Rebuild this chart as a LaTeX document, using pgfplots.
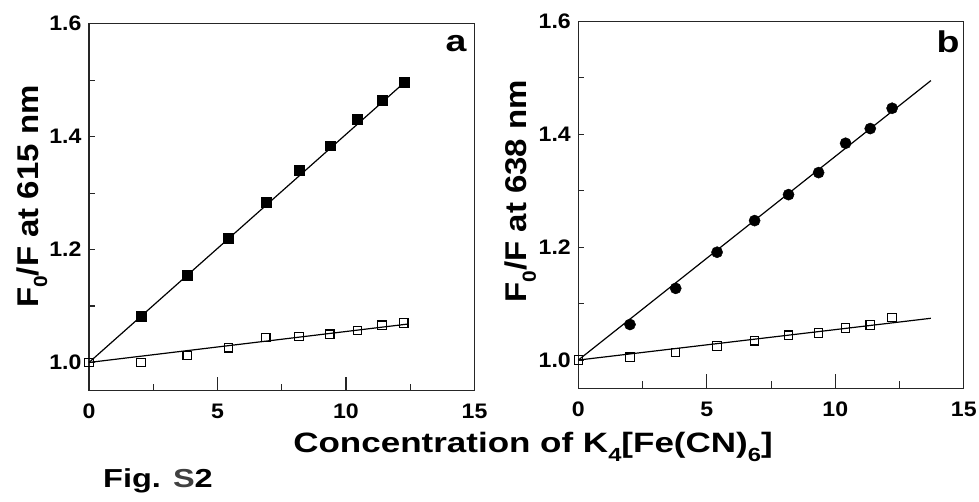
\documentclass[border=0pt]{standalone}
\usepackage{fontspec}
\setmainfont{Liberation Sans}
\newfontfamily\tickfont[FakeStretch=1.1]{Liberation Sans Bold}
\newfontfamily\labfont[FakeStretch=1.25]{Liberation Sans Bold}
\newfontfamily\ylabfont[FakeStretch=1.1]{Liberation Sans Bold}
\usepackage{pgfplots}
\pgfplotsset{compat=1.18}

% lowered subscript set in the current (text) font
\newcommand\lowsub[1]{\raisebox{-0.3em}{\fontsize{19}{19}\selectfont #1}}

\tikzset{ylab/.style={font=\ylabfont\fontsize{30}{30}\selectfont, rotate=90, anchor=center}}

\pgfplotsset{
  frame/.style={
    scale only axis,
    width=385.5pt, height=367pt,
    anchor=south west,
    xmin=0, xmax=15, ymin=0.95, ymax=1.6,
    xtick={0,5,10,15},
    minor x tick num=1,
    xtick pos=left, ytick pos=left, tick align=inside,
    every tick/.style={line width=1.1pt, black!85},
    clip=false,
  },
  panel/.style={
    frame,
    ytick={1.0,1.2,1.4,1.6}, minor y tick num=1,
    major tick length=6pt, minor tick length=6pt,
    axis line style={line width=1.2pt, black!85},
    tick label style={font=\tickfont\fontsize{21}{21}\selectfont},
    xticklabel style={yshift=-10pt},
    yticklabel style={xshift=-4pt, /pgf/number format/.cd, fixed, fixed zerofill, precision=1},
    /pgf/number format/assume math mode=true,
  },
  % longer x ticks, drawn over the panel frame; their labels stay hidden
  xticks/.style={
    frame,
    ytick=\empty, minor y tick num=0,
    major tick length=14pt, minor tick length=7pt,
    xticklabel style={text opacity=0},
    axis line style={draw=none},
  },
  fit/.style={black, line width=1.2pt, no marks},
  filledsq/.style={only marks, mark=square*, mark size=4.9pt, mark options={black}},
  opensq/.style={only marks, mark=square, mark size=4.2pt, mark options={black, line width=1.15pt, fill=white}},
  dots/.style={only marks, mark=*, mark size=5.6pt, mark options={black}},
}

\begin{document}
\begin{tikzpicture}[x=1pt, y=1pt]
\useasboundingbox (0,0) rectangle (979,502);

% panel a: emission at 615 nm
\begin{axis}[panel, at={(89pt,111.3pt)},
  every axis y label/.style={at={(axis description cs:-0.148,0.529)}, ylab},
  ylabel={F\lowsub{0}/F at 615 nm}]
  \addplot[fit] coordinates {(0,1.0) (12.3,1.497)};
  \addplot[fit] coordinates {(0,1.0) (12.4,1.068)};
  \addplot[filledsq] coordinates {
    (2.02,1.082) (3.82,1.155) (5.43,1.220) (6.88,1.284) (8.17,1.341)
    (9.37,1.384) (10.44,1.431) (11.40,1.465) (12.25,1.496)};
  \addplot[opensq] coordinates {
    (0,1.000) (2.02,1.000) (3.82,1.012) (5.43,1.026) (6.88,1.044)
    (8.17,1.046) (9.37,1.050) (10.44,1.057) (11.40,1.066) (12.25,1.070)};
\end{axis}
\begin{axis}[xticks, at={(89pt,111.3pt)}]
\end{axis}

% panel b: emission at 638 nm
\begin{axis}[panel, at={(578.3pt,113.7pt)},
  every axis y label/.style={at={(axis description cs:-0.15,0.537)}, ylab},
  ylabel={F\lowsub{0}/F at 638 nm}]
  \addplot[fit] coordinates {(0,1.0) (13.72,1.495)};
  \addplot[fit] coordinates {(0,1.0) (13.72,1.074)};
  \addplot[dots] coordinates {
    (2.01,1.063) (3.79,1.127) (5.40,1.191) (6.86,1.247) (8.18,1.293)
    (9.35,1.332) (10.40,1.384) (11.36,1.410) (12.21,1.446)};
  \addplot[opensq] coordinates {
    (0,1.000) (2.01,1.005) (3.79,1.013) (5.40,1.025) (6.86,1.034)
    (8.18,1.044) (9.35,1.048) (10.40,1.057) (11.36,1.062) (12.21,1.075)};
\end{axis}
\begin{axis}[xticks, at={(578.3pt,113.7pt)}]
\end{axis}

% panel letters
\node[font=\labfont\fontsize{30}{30}\selectfont] at (456,458) {a};
\node[font=\labfont\fontsize{30}{30}\selectfont] at (948,460) {b};

% shared x label and figure caption
\node[anchor=base, font=\labfont\fontsize{28}{28}\selectfont] at (533,49)
  {Concentration of K\lowsub{4}[Fe(CN)\lowsub{6}]};
\node[anchor=base west, font=\labfont\fontsize{26}{26}\selectfont, inner sep=0pt] at (103,14)
  {Fig. {\color{black!75}S}2};
\end{tikzpicture}
\end{document}
